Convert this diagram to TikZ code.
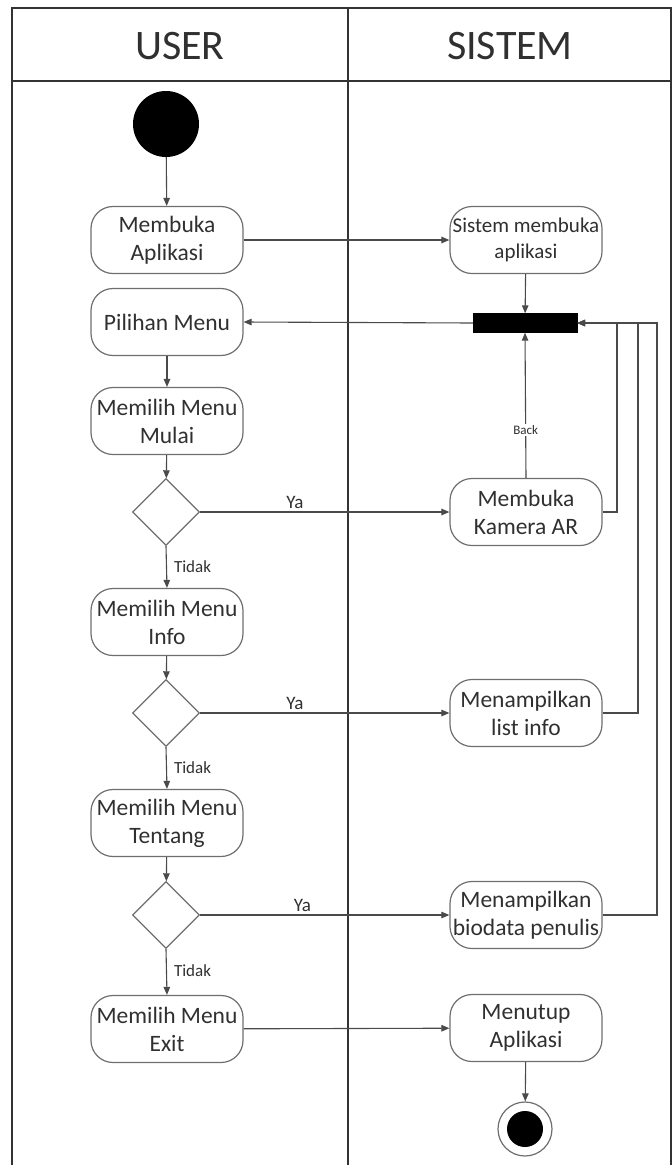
\documentclass[tikz,border=0pt]{standalone}
\usepackage{fontspec}
\setmainfont{Carlito}
\usetikzlibrary{shapes.geometric,arrows.meta}
\definecolor{frameline}{HTML}{333333}
\definecolor{boxline}{HTML}{6E6E6E}
\definecolor{wire}{HTML}{4A4A4A}
\definecolor{txt}{HTML}{303030}
\begin{document}
\begin{tikzpicture}[x=1pt,y=-1pt,
  act/.style={draw=boxline, line width=1.2pt, rounded corners=22pt,
    minimum width=152pt, minimum height=67pt, align=center, text=txt,
    font=\fontsize{23.5}{28}\selectfont, inner sep=1pt},
  actsmall/.style={act, font=\fontsize{21}{26}\selectfont},
  decision/.style={draw=boxline, line width=1.2pt, diamond, aspect=1,
    minimum width=67pt, minimum height=67pt, inner sep=0pt},
  syncbar/.style={fill=black, draw=black, minimum width=104pt, minimum height=19pt, inner sep=0pt},
  flow/.style={draw=wire, line width=1.1pt, -{Triangle[length=8pt,width=6.5pt]}},
  lbl/.style={text=txt, font=\fontsize{19}{21}\selectfont, inner sep=1pt},
  nolbl/.style={lbl, font=\fontsize{17}{19}\selectfont},
  lane/.style={draw=frameline, line width=2pt},
  title/.style={text=txt, font=\fontsize{42}{46}\selectfont}
]
\useasboundingbox (0,0) rectangle (672,1165);

% swimlane frame
\draw[lane] (12,1165) -- (12,8) -- (670.5,8) -- (670.5,1165);
\draw[lane] (12,81) -- (670.5,81);
\draw[lane] (348,8) -- (348,1165);
\node[title] (huser) at (180,46) {USER};
\node[title] (hsys) at (510,46) {SISTEM};

% user lane
\node[circle, fill=black, minimum size=66pt, inner sep=0pt] (start) at (166,124) {};
\node[act] (a1) at (167,240) {Membuka\\Aplikasi};
\node[act] (a2) at (167,322) {Pilihan Menu};
\node[act] (a3) at (167,421) {Memilih Menu\\Mulai};
\node[decision] (d1) at (166,512) {};
\node[act] (a4) at (167,622) {Memilih Menu\\Info};
\node[decision] (d2) at (166,713) {};
\node[act] (a5) at (167,823) {Memilih Menu\\Tentang};
\node[decision] (d3) at (166,915) {};
\node[act] (a6) at (167,1029) {Memilih Menu\\Exit};

% system lane
\node[actsmall] (s1) at (526,240) {Sistem membuka\\aplikasi};
\node[syncbar] (bar) at (525,323) {};
\node[act] (s2) at (526,512) {Membuka\\Kamera AR};
\node[act] (s3) at (526,713) {Menampilkan\\list info};
\node[act] (s4) at (526,915) {Menampilkan\\biodata penulis};
\node[act] (s5) at (526,1028) {Menutup\\Aplikasi};
\node[circle, draw=boxline, line width=1.2pt, minimum size=54pt, inner sep=0pt] (stop) at (525,1129) {};
\node[circle, fill=black, minimum size=36pt, inner sep=0pt] (stopdot) at (stop.center) {};

% return points of the loops
\coordinate (r1) at (617,512);
\coordinate (r2) at (638,713);
\coordinate (r3) at (657,915);

% connectors
\draw[flow] (start) -- (a1);
\draw[flow] (a1) -- (s1);
\draw[flow] (s1) -- (bar);
\draw[flow] (bar.west) -- (a2.east);
\draw[flow] (a2) -- (a3);
\draw[flow] (a3) -- (d1);
\draw[flow] (d1.east) -- node[lbl, pos=0.38, above=2pt] {Ya} (s2.west);
\draw[flow] (d1.south) -- node[nolbl, pos=0.48, right=6pt] {Tidak} (a4.north);
\draw[flow] (a4) -- (d2);
\draw[flow] (d2.east) -- node[lbl, pos=0.38, above=2pt] {Ya} (s3.west);
\draw[flow] (d2.south) -- node[nolbl, pos=0.48, right=6pt] {Tidak} (a5.north);
\draw[flow] (a5) -- (d3);
\draw[flow] (d3.east) -- node[lbl, pos=0.41, above=2pt] {Ya} (s4.west);
\draw[flow] (d3.south) -- node[nolbl, pos=0.48, right=6pt] {Tidak} (a6.north);
\draw[flow] (a6) -- (s5);
\draw[flow] (s5) -- (stop);
\draw[flow] (s2.north) -- node[lbl, pos=0.33, fill=white, font=\fontsize{13}{15}\selectfont] {Back} (bar.south);
\draw[flow] (s2.east) -- (r1) |- (bar.east);
\draw[flow] (s3.east) -- (r2) |- (bar.east);
\draw[flow] (s4.east) -- (r3) |- (bar.east);
\end{tikzpicture}
\end{document}
